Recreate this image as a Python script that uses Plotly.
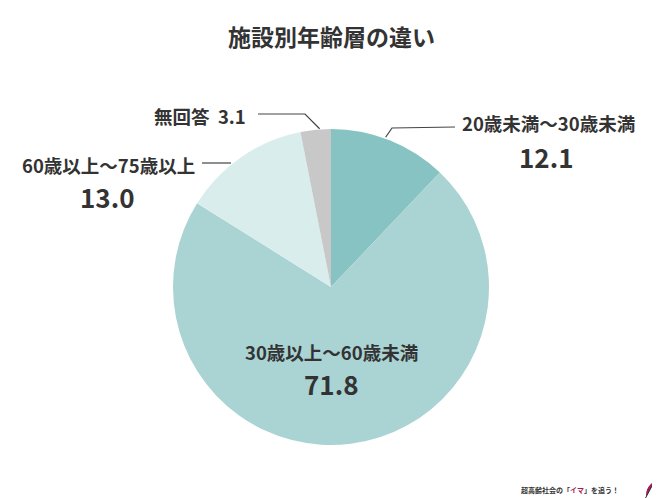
import math
import plotly.graph_objects as go

# data
categories = ["20歳未満〜30歳未満", "30歳以上〜60歳未満", "60歳以上〜75歳以上", "無回答"]
values = [12.1, 71.8, 13.0, 3.1]
colors = ["#87C3C2", "#AAD4D3", "#DAEDED", "#C8C8C8"]

W, H = 660, 498
OFF = 8  # page body margin
cx, cy, r = 331, 287, 158
FONT = "Noto Sans CJK JP"
TXT = "#333333"


def px(x, y):
    return (x - OFF) / W, 1 - (y - OFF) / H


fig = go.Figure(go.Pie(
    labels=categories,
    values=values,
    sort=False,
    direction="clockwise",
    rotation=0,
    marker=dict(colors=colors, line=dict(width=0)),
    textinfo="none",
    hoverinfo="label+value",
    domain=dict(x=[px(cx - r, 0)[0], px(cx + r, 0)[0]],
                y=[px(0, cy + r)[1], px(0, cy - r)[1]]),
))


def edge_point(i):
    total = sum(values)
    before = sum(values[:i])
    ang = (before + values[i] / 2) / total * 2 * math.pi
    return cx + r * math.sin(ang), cy - r * math.cos(ang)


def leader(pts):
    path = "M " + " L ".join("{},{}".format(*px(x, y)) for x, y in pts)
    fig.add_shape(type="path", path=path, xref="paper", yref="paper",
                  line=dict(color="#444444", width=1.2))


annotations = []


def label(x, y, text, size, anchor="center", color=TXT):
    ax, ay = px(x, y)
    annotations.append(dict(x=ax, y=ay, xref="paper", yref="paper", text=text,
                            showarrow=False, xanchor=anchor, yanchor="middle",
                            font=dict(family=FONT, size=size, color=color)))


LBL, NUM = 18.5, 26

# 20歳未満〜30歳未満
sx, sy = edge_point(0)
leader([(sx - 4, sy - 3), (392, 128), (455, 127)])
label(460, 123, f"<b>{categories[0]}</b>", LBL, anchor="left")
label(546, 157, f"<b>{values[0]}</b>", NUM)

# 30歳以上〜60歳未満 (inside)
label(331, 352, f"<b>{categories[1]}</b>", LBL)
label(331, 383, f"<b>{values[1]}</b>", NUM)

# 60歳以上〜75歳以上
leader([(202, 163), (231, 163)])
label(197, 165, f"<b>{categories[2]}</b>", LBL, anchor="right")
label(107, 196, f"<b>{values[2]:.1f}</b>", NUM)

# 無回答
sx, sy = edge_point(3)
leader([(258, 114), (305, 114), (sx + 4, sy - 1)])
label(248, 116, f"<b>{categories[3]}  {values[3]}</b>", LBL, anchor="right")

# title
label(331, 36, "<b>施設別年齢層の違い</b>", 23)

# watermark
label(621, 490, "<b>超高齢社会の「<span style='color:#A3195B'>イマ</span>」を追う！</b>", 7, anchor="right")
x0, y0 = px(646, 480)
x1, y1 = px(676, 510)
fig.add_shape(type="circle", xref="paper", yref="paper", x0=x0, y0=y1, x1=x1, y1=y0,
              fillcolor="#A3195B", line=dict(width=0))
fig.add_shape(type="path", xref="paper", yref="paper",
              path="M {},{} L {},{} L {},{} Z".format(*px(645, 499), *px(652, 486), *px(660, 499)),
              fillcolor="white", line=dict(color="#333333", width=1))

fig.update_layout(
    width=W, height=H,
    margin=dict(l=0, r=0, t=0, b=0),
    paper_bgcolor="white",
    plot_bgcolor="white",
    showlegend=False,
    annotations=annotations,
    font=dict(family=FONT, color=TXT),
)

fig.write_html("out.html")
